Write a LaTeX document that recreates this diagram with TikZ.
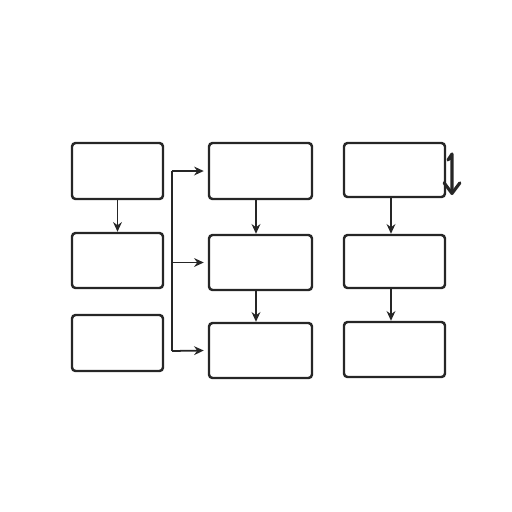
\documentclass[tikz,border=0pt]{standalone}
\usetikzlibrary{arrows.meta}
\begin{document}
\begin{tikzpicture}[x=0.02cm,y=-0.02cm,
  boxst/.style={draw=black!85,line width=1.4pt,rounded corners=2pt,inner sep=0pt},
  arr/.style={draw=black!85,line width=1pt,-{Stealth[length=5.5pt,width=5pt]}},
  ln/.style={draw=black!85,line width=1pt}]
\useasboundingbox (0,0) rectangle (512,512);
% column 1
\node[boxst,minimum width=91*0.02cm,minimum height=56*0.02cm] (a1) at (117.5,171) {};
\node[boxst,minimum width=91*0.02cm,minimum height=55*0.02cm] (a2) at (117.5,260.5) {};
\node[boxst,minimum width=91*0.02cm,minimum height=56*0.02cm] (a3) at (117.5,343) {};
% column 2
\node[boxst,minimum width=103*0.02cm,minimum height=56*0.02cm] (b1) at (260.5,171) {};
\node[boxst,minimum width=103*0.02cm,minimum height=55*0.02cm] (b2) at (260.5,262.5) {};
\node[boxst,minimum width=103*0.02cm,minimum height=55*0.02cm] (b3) at (260.5,350.5) {};
% column 3
\node[boxst,minimum width=101*0.02cm,minimum height=54*0.02cm] (c1) at (394.5,170) {};
\node[boxst,minimum width=101*0.02cm,minimum height=53*0.02cm] (c2) at (394.5,261.5) {};
\node[boxst,minimum width=101*0.02cm,minimum height=55*0.02cm] (c3) at (394.5,349.5) {};
\coordinate (x2) at (256,0);
\coordinate (x3) at (391,0);
% vertical arrows
\draw[arr] (a1.south) -- (a2.north);
\draw[arr] (b1.south -| x2) -- (b2.north -| x2);
\draw[arr] (b2.south -| x2) -- (b3.north -| x2);
\draw[arr] (c1.south -| x3) -- (c2.north -| x3);
\draw[arr] (c2.south -| x3) -- (c3.north -| x3);
% bracket
\coordinate (bt) at (172,171);
\coordinate (bm) at (172,262.5);
\coordinate (bb) at (172,351);
\draw[ln] (bt) -- (bb);
\draw[arr] (bt) -- ([xshift=-0.08cm]b1.west);
\draw[arr] (bm) -- ([xshift=-0.08cm]b2.west);
\draw[arr] (bb) -- ([xshift=-0.08cm]b3.west);
% small side arrow
\coordinate (st) at (452,154);
\coordinate (sb) at (452,195);
\coordinate (sk) at (448,160);
\draw[line width=1.8pt,draw=black!85,line cap=round,line join=round,-{Straight Barb[length=6pt,width=9pt,round]}] (sk) -- (st) -- (sb);
\end{tikzpicture}
\end{document}
